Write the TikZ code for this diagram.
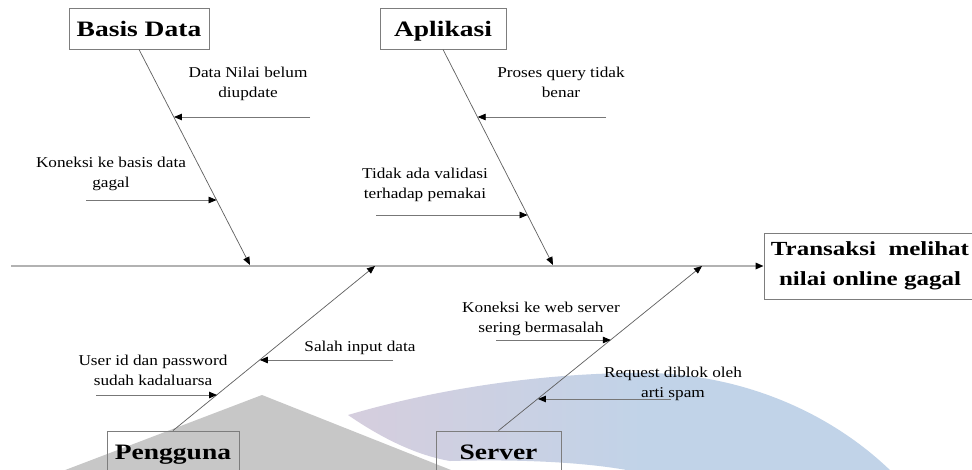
\documentclass[tikz,border=0pt]{standalone}
\usepackage{fontspec}
\setmainfont{Liberation Serif}[FakeStretch=1.15]
\newfontfamily\headfont{Liberation Serif}[FakeStretch=1.25]
\usetikzlibrary{arrows.meta,calc}
\definecolor{wmgray}{RGB}{199,199,199}
\definecolor{wmpink}{RGB}{224,203,216}
\definecolor{wmblue}{RGB}{193,211,232}
\definecolor{boxline}{RGB}{125,125,125}
\definecolor{boneline}{RGB}{95,95,95}
\definecolor{spineline}{RGB}{178,178,178}
\pgfdeclarehorizontalshading{wmshade}{100bp}{color(0bp)=(wmpink); color(8bp)=(wmpink); color(30bp)=(wmpink!55!wmblue); color(52bp)=(wmblue); color(100bp)=(wmblue)}

\begin{document}
\begin{tikzpicture}[x=1pt,y=-1pt,
  catbox/.style={draw=boxline, line width=0.9pt, inner sep=0pt,
    font=\headfont\fontsize{22}{26}\selectfont\bfseries,
    minimum height=41pt, text height=15pt, text depth=0pt},
  effbox/.style={draw=boxline, line width=0.9pt, inner sep=0pt, align=center,
    font=\headfont\fontsize{20}{30}\selectfont\bfseries},
  cause/.style={font=\fontsize{15}{20}\selectfont, align=center, inner sep=0pt, anchor=base},
  tipend/.tip={Triangle[length=8pt,width=6.5pt,color=black]},
  bone/.style={draw=boneline, line width=0.7pt, -tipend},
  subarrow/.style={draw=boneline!85!white, line width=0.8pt, -tipend},
  spine/.style={draw=spineline, line width=1.6pt, -tipend}]

\useasboundingbox (0,0) rectangle (972,469);
\clip (0,0) rectangle (972,469);
\fill[white] (0,0) rectangle (972,469);

% background emblem
\fill[wmgray] (262,395) -- (456,472) -- (60,472) -- cycle;
\shade[shading=wmshade] (348,415) .. controls (450,385) and (560,372) .. (650,373)
  .. controls (740,375) and (830,410) .. (895,475) -- (650,475)
  .. controls (600,462) and (520,459) .. (450,461)
  .. controls (415,455) and (380,437) .. (348,415) -- cycle;

% category boxes and effect
\node[catbox, minimum width=140pt] (bd) at (139,28.5) {Basis Data};
\node[catbox, minimum width=126pt] (ap) at (443,28.5) {Aplikasi};
\node[catbox, minimum width=132pt] (pg) at (173,451.5) {Pengguna};
\node[catbox, minimum width=125pt] (sv) at (498.5,451.5) {Server};
\node[effbox, minimum width=212pt, minimum height=66pt] (ef) at (870,266)
  {Transaksi\ \ melihat\\nilai online gagal};

% spine
\coordinate (tail) at (11,266);
\draw[spine] (tail) -- (ef.west);

% bones
\coordinate (bdend) at (250,265);
\coordinate (apend) at (553,265);
\coordinate (pgend) at (375,266);
\coordinate (svend) at (702,266);
\draw[bone] (bd.south) -- (bdend);
\draw[bone] (ap.south) -- (apend);
\draw[bone] (pg.north) -- (pgend);
\draw[bone] (sv.north) -- (svend);

% points on the bones
\coordinate (h1) at ($(bd.south)!0.315!(bdend)$);
\coordinate (h2) at ($(bd.south)!0.699!(bdend)$);
\coordinate (h3) at ($(ap.south)!0.315!(apend)$);
\coordinate (h4) at ($(ap.south)!0.769!(apend)$);
\coordinate (h5) at ($(pg.north)!0.430!(pgend)$);
\coordinate (h6) at ($(pg.north)!0.218!(pgend)$);
\coordinate (h7) at ($(sv.north)!0.552!(svend)$);
\coordinate (h8) at ($(sv.north)!0.194!(svend)$);

% cause arrows
\coordinate (c1) at (310,117);
\coordinate (c2) at (86,200);
\coordinate (c3) at (606,117);
\coordinate (c4) at (376,215);
\coordinate (c5) at (393,360);
\coordinate (c6) at (96,395);
\coordinate (c7) at (496,340);
\coordinate (c8) at (671,399);
\foreach \i in {1,...,8} {\draw[subarrow] (c\i) -- (c\i -| h\i);}

% cause labels (anchored on the baseline of the last line)
\node[cause] (l1) at (248,97) {Data Nilai belum\\diupdate};
\node[cause] (l2) at (111,187) {Koneksi ke basis data\\gagal};
\node[cause] (l3) at (561,97) {Proses query tidak\\benar};
\node[cause] (l4) at (425,198) {Tidak ada validasi\\terhadap pemakai};
\node[cause] (l5) at (360,351) {Salah input data};
\node[cause] (l6) at (153,385) {User id dan password\\sudah kadaluarsa};
\node[cause] (l7) at (541,332) {Koneksi ke web server\\sering bermasalah};
\node[cause] (l8) at (673,397) {Request diblok oleh\\arti spam};
\end{tikzpicture}
\end{document}
